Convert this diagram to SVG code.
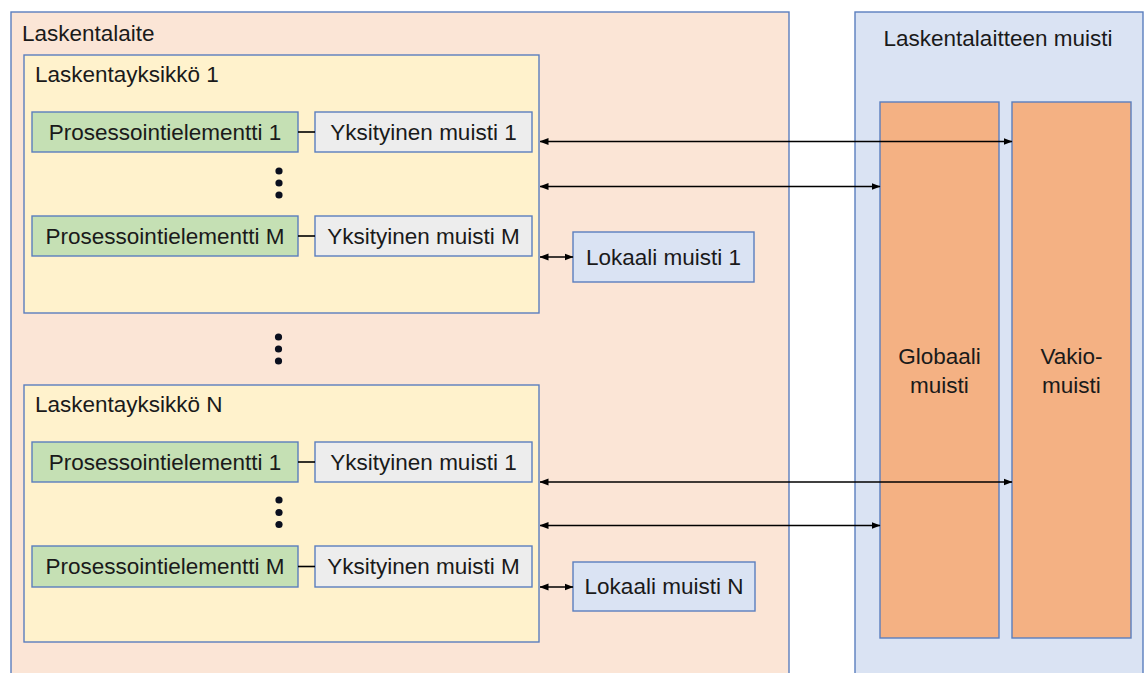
<svg xmlns="http://www.w3.org/2000/svg" width="1146" height="673" viewBox="0 0 1146 673">
<defs>
<marker id="ah" markerWidth="9" markerHeight="8" refX="8.5" refY="4" orient="auto-start-reverse" markerUnits="userSpaceOnUse">
<path d="M0,0.5 L9,4 L0,7.5 Z" fill="#000"/>
</marker>
</defs>
<style>
text{font-family:"Liberation Sans",Arial,sans-serif;font-size:22.5px;fill:#1a1a1a}
.c{text-anchor:middle}
.b{stroke:#5B7EBE;stroke-width:1.4}
.dev{fill:#FBE5D6}
.cu{fill:#FFF2CC}
.pe{fill:#C5E0B4}
.pm{fill:#EDEDED}
.lm{fill:#DAE3F3}
.gm{fill:#F4B183}
.ar{stroke:#000;stroke-width:1.6;fill:none;marker-start:url(#ah);marker-end:url(#ah)}
.ln{stroke:#000;stroke-width:1.6;fill:none}
.dot{fill:#0A0F1E}
</style>
<rect width="1146" height="673" fill="#fff"/>
<g id="laskentalaite">
<rect class="b dev" x="11" y="12" width="778" height="680"/>
<text x="22" y="41">Laskentalaite</text>
</g>
<g id="laskentalaitteen-muisti">
<rect class="b lm" x="855" y="12" width="288" height="680"/>
<text class="c" x="998" y="46">Laskentalaitteen muisti</text>
</g>
<g id="laskentayksikko-1">
<rect class="b cu" x="24" y="55" width="515" height="258"/>
<text x="35" y="82">Laskentayksikkö 1</text>
</g>
<g id="pe-1-1"><rect class="b pe" x="32" y="112" width="266" height="40"/><text class="c" x="165" y="140">Prosessointielementti 1</text></g>
<g id="ym-1-1"><rect class="b pm" x="315" y="112" width="217" height="40"/><text class="c" x="423.5" y="140">Yksityinen muisti 1</text></g>
<g id="dots-1"><circle class="dot" cx="279" cy="171" r="3.6"/><circle class="dot" cx="279" cy="183" r="3.6"/><circle class="dot" cx="279" cy="195" r="3.6"/></g>
<g id="pe-1-m"><rect class="b pe" x="32" y="216" width="266" height="40"/><text class="c" x="165" y="244">Prosessointielementti M</text></g>
<g id="ym-1-m"><rect class="b pm" x="315" y="216" width="217" height="40"/><text class="c" x="423.5" y="244">Yksityinen muisti M</text></g>
<g id="lokaali-1"><rect class="b lm" x="573" y="232" width="181" height="50"/><text class="c" x="663.5" y="265">Lokaali muisti 1</text></g>
<g id="dots-mid"><circle class="dot" cx="278.5" cy="337" r="3.6"/><circle class="dot" cx="278.5" cy="349" r="3.6"/><circle class="dot" cx="278.5" cy="361" r="3.6"/></g>
<g id="laskentayksikko-n">
<rect class="b cu" x="24" y="385" width="515" height="257"/>
<text x="35" y="412">Laskentayksikkö N</text>
</g>
<g id="pe-n-1"><rect class="b pe" x="32" y="442" width="266" height="40"/><text class="c" x="165" y="470">Prosessointielementti 1</text></g>
<g id="ym-n-1"><rect class="b pm" x="315" y="442" width="217" height="40"/><text class="c" x="423.5" y="470">Yksityinen muisti 1</text></g>
<g id="dots-n"><circle class="dot" cx="279" cy="500" r="3.6"/><circle class="dot" cx="279" cy="512.5" r="3.6"/><circle class="dot" cx="279" cy="524.5" r="3.6"/></g>
<g id="pe-n-m"><rect class="b pe" x="32" y="546" width="266" height="41"/><text class="c" x="165" y="574">Prosessointielementti M</text></g>
<g id="ym-n-m"><rect class="b pm" x="315" y="546" width="217" height="41"/><text class="c" x="423.5" y="574">Yksityinen muisti M</text></g>
<g id="lokaali-n"><rect class="b lm" x="573" y="562" width="182" height="49"/><text class="c" x="664" y="594">Lokaali muisti N</text></g>
<g id="globaali-muisti"><rect class="b gm" x="880" y="102" width="119" height="536"/><text class="c" x="939.5" y="364">Globaali</text><text class="c" x="939.5" y="393">muisti</text></g>
<g id="vakiomuisti"><rect class="b gm" x="1012" y="102" width="119" height="536"/><text class="c" x="1071.5" y="364">Vakio-</text><text class="c" x="1071.5" y="393">muisti</text></g>
<g id="connectors">
<line class="ln" x1="298" y1="132" x2="315" y2="132"/>
<line class="ln" x1="298" y1="236" x2="315" y2="236"/>
<line class="ln" x1="298" y1="462" x2="315" y2="462"/>
<line class="ln" x1="298" y1="566.5" x2="315" y2="566.5"/>
<line class="ar" x1="540" y1="141.5" x2="1012" y2="141.5"/>
<line class="ar" x1="540" y1="186.5" x2="880" y2="186.5"/>
<line class="ar" x1="540" y1="257" x2="573" y2="257"/>
<line class="ar" x1="540" y1="482" x2="1012" y2="482"/>
<line class="ar" x1="540" y1="525.5" x2="880" y2="525.5"/>
<line class="ar" x1="540" y1="587" x2="573" y2="587"/>
</g>
</svg>
